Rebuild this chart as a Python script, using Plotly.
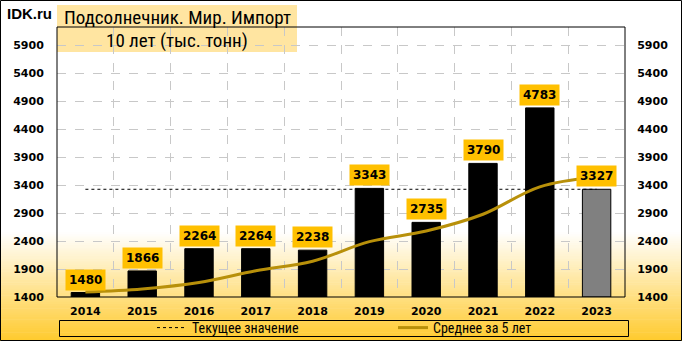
import plotly.graph_objects as go

years = ["2014", "2015", "2016", "2017", "2018", "2019", "2020", "2021", "2022", "2023"]
values = [1480, 1866, 2264, 2264, 2238, 3343, 2735, 3790, 4783, 3327]
avg5 = [1490, 1545, 1660, 1870, 2040, 2390, 2580, 2880, 3370, 3545]
current_value = 3327
y_ticks = [1400, 1900, 2400, 2900, 3400, 3900, 4400, 4900, 5400, 5900]
y_range = [1400, 6230]

bar_colors = ["#000000"] * (len(years) - 1) + ["#808080"]

W, H = 682, 341
ML, MR, MT, MB = 57, 57, 27, 44
PW, PH = W - ML - MR, H - MT - MB


def px_x(p):
    return (p - ML) / PW


def px_y(p):
    return (H - MB - p) / PH


fig = go.Figure()

fig.add_trace(go.Bar(
    x=years, y=[v - y_range[0] for v in values], base=y_range[0],
    marker=dict(color=bar_colors, line=dict(color="#000000", width=1)),
    width=0.5, showlegend=False, hoverinfo="skip",
))

fig.add_trace(go.Scatter(
    x=years, y=[current_value] * len(years), mode="lines",
    line=dict(color="#000000", width=1, dash="3px,3px"),
    name="Текущее значение",
))

fig.add_trace(go.Scatter(
    x=years, y=avg5, mode="lines",
    line=dict(color="#B8900A", width=3, shape="spline", smoothing=1.0),
    name="Среднее за 5 лет",
))

fig.add_trace(go.Scatter(
    x=years, y=values, yaxis="y2", mode="markers",
    marker=dict(opacity=0), showlegend=False, hoverinfo="skip",
))

shapes = []
# background gradient
top_px, bot_px = 232, H
n = 50
c0 = (255, 255, 255)
c1 = (255, 202, 45)
for i in range(n):
    t = (i + 0.5) / n
    y0p = top_px + (bot_px - top_px) * i / n
    y1p = top_px + (bot_px - top_px) * (i + 1) / n
    col = tuple(round(c0[k] + (c1[k] - c0[k]) * t) for k in range(3))
    shapes.append(dict(
        type="rect", xref="paper", yref="paper", layer="below",
        x0=px_x(0), x1=px_x(W), y0=px_y(y1p + 0.5), y1=px_y(y0p),
        fillcolor="rgb(%d,%d,%d)" % col, line=dict(width=0),
    ))
# title box
shapes.append(dict(
    type="rect", xref="paper", yref="paper", layer="below",
    x0=px_x(57), x1=px_x(297), y0=px_y(52), y1=px_y(5),
    fillcolor="rgba(255,215,110,0.65)", line=dict(width=0),
))
# plot border
shapes.append(dict(
    type="rect", xref="paper", yref="paper", layer="above",
    x0=0, x1=1, y0=0, y1=1, line=dict(color="#000000", width=1),
))
# legend box
shapes.append(dict(
    type="rect", xref="paper", yref="paper", layer="above",
    x0=px_x(59.5), x1=px_x(628.5), y0=px_y(336.5), y1=px_y(320.5),
    line=dict(color="#000000", width=1),
))
# outer border
shapes.append(dict(
    type="rect", xref="paper", yref="paper", layer="above",
    x0=px_x(0.5), x1=px_x(W - 0.5), y0=px_y(H - 0.5), y1=px_y(0.5),
    line=dict(color="#000000", width=1),
))

annotations = []
for i, v in enumerate(values):
    annotations.append(dict(
        x=i, y=v, xref="x", yref="y", yanchor="bottom", yshift=2,
        text="<b>%d</b>" % v, showarrow=False,
        font=dict(family="DejaVu Sans", size=12, color="#000000"),
        bgcolor="#FFC000", borderpad=3,
    ))
annotations.append(dict(
    x=px_x(5), y=px_y(13), xref="paper", yref="paper", xanchor="left", yanchor="middle",
    text="<b>IDK.ru</b>", showarrow=False,
    font=dict(family="Liberation Sans", size=15, color="#000000"),
))
title_font = dict(family="Liberation Sans Narrow, Roboto Condensed, Liberation Sans", size=19, color="#000000")
annotations.append(dict(
    x=px_x(177), y=px_y(18), xref="paper", yref="paper", xanchor="center", yanchor="middle",
    text="Подсолнечник. Мир. Импорт", showarrow=False, font=title_font,
))
annotations.append(dict(
    x=px_x(177), y=px_y(41), xref="paper", yref="paper", xanchor="center", yanchor="middle",
    text="10 лет (тыс. тонн)", showarrow=False, font=title_font,
))

tickfont = dict(family="DejaVu Sans", size=11, color="#000000", weight="bold")

fig.update_layout(
    width=W, height=H,
    margin=dict(l=ML, r=MR, t=MT, b=MB, pad=0, autoexpand=False),
    paper_bgcolor="#FFFFFF", plot_bgcolor="rgba(0,0,0,0)",
    barmode="overlay",
    xaxis=dict(
        type="category", tickson="boundaries", showgrid=True,
        gridcolor="#C8C8C8", griddash="dash", gridwidth=1,
        ticks="", ticklabelstandoff=6,
        tickfont=tickfont,
        showline=False, zeroline=False, range=[-0.5, 9.5],
    ),
    yaxis=dict(
        range=y_range, tickvals=y_ticks, showgrid=True,
        gridcolor="#C8C8C8", griddash="dash", gridwidth=1,
        ticks="outside", ticklen=10, tickcolor="rgba(0,0,0,0)",
        tickfont=tickfont,
        zeroline=False, showline=False,
    ),
    yaxis2=dict(
        range=y_range, tickvals=y_ticks, overlaying="y", side="right",
        showgrid=False, ticks="outside", ticklen=9, tickcolor="rgba(0,0,0,0)",
        tickfont=tickfont,
        zeroline=False, showline=False,
    ),
    legend=dict(
        orientation="h", x=px_x(152), xanchor="left", y=px_y(328), yanchor="middle",
        bgcolor="rgba(0,0,0,0)", entrywidth=196, entrywidthmode="pixels",
        font=dict(family="Liberation Sans Narrow, Roboto Condensed, Liberation Sans", size=14, color="#000000"),
        itemclick=False, itemdoubleclick=False, tracegroupgap=0,
    ),
    shapes=shapes,
    annotations=annotations,
    showlegend=True,
)

fig.write_html("out.html")
